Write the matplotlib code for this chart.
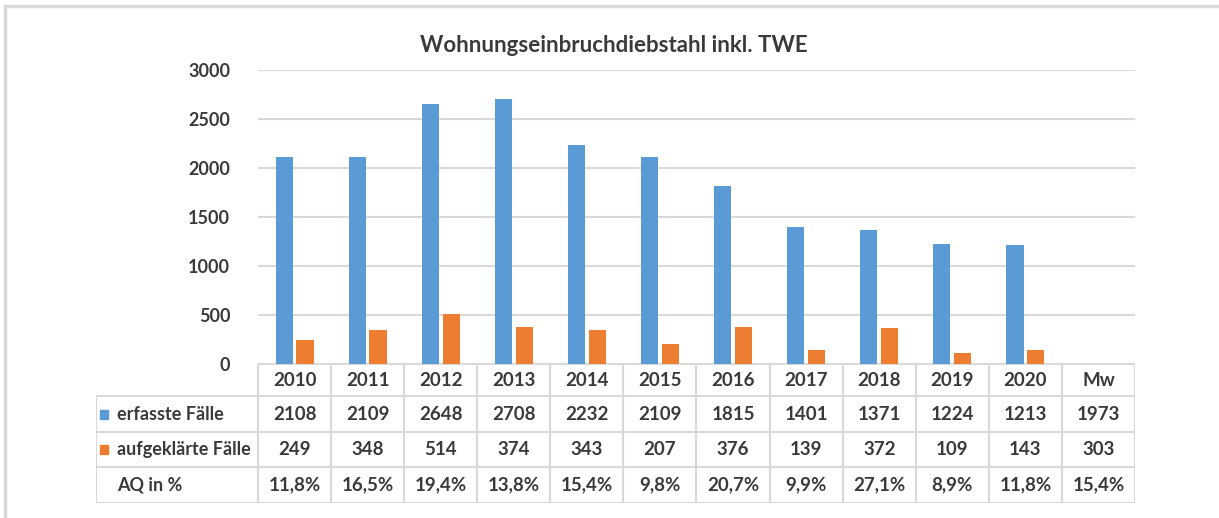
import matplotlib.pyplot as plt
from matplotlib.lines import Line2D
from matplotlib.patches import Rectangle

# Data
years = ['2010', '2011', '2012', '2013', '2014', '2015', '2016', '2017', '2018', '2019', '2020']
erfasst = [2108, 2109, 2648, 2708, 2232, 2109, 1815, 1401, 1371, 1224, 1213]
aufgeklaert = [249, 348, 514, 374, 343, 207, 376, 139, 372, 109, 143]
aq = ['11,8%', '16,5%', '19,4%', '13,8%', '15,4%', '9,8%', '20,7%', '9,9%', '27,1%', '8,9%', '11,8%']
mw_label = 'Mw'
mw_erfasst = 1973
mw_aufgeklaert = 303
mw_aq = '15,4%'

blue = '#5B9BD5'
orange = '#ED7D31'
grid_col = '#D9D9D9'
text_col = '#3A3A3A'

plt.rcParams['font.family'] = ['Lato', 'DejaVu Sans']

W, H = 1219, 518
fig = plt.figure(figsize=(W / 100, H / 100), dpi=100)


def fx(px):
    return px / W


def fy(py):
    return 1 - py / H


# Chart frame (light grey)
fig.add_artist(Line2D([fx(5), 1], [fy(6), fy(6)], color='#D9D9D9', lw=2.5))
fig.add_artist(Line2D([fx(5), fx(5)], [fy(6), 0], color='#D9D9D9', lw=2.5))

# Main bar axes
x_left, x_right = 258, 1135
y_top, y_bot = 70, 364
ax = fig.add_axes([fx(x_left), fy(y_bot), fx(x_right) - fx(x_left), fy(y_top) - fy(y_bot)])
ncat = len(years) + 1
pos = list(range(len(years)))
bw = 0.235
gap = 0.05
ax.bar([p - (bw + gap) / 2 for p in pos], erfasst, width=bw, color=blue, zorder=3)
ax.bar([p + (bw + gap) / 2 for p in pos], aufgeklaert, width=bw, color=orange, zorder=3)
ax.set_xlim(-0.5, ncat - 0.5)
ax.set_ylim(0, 3000)
ax.set_yticks(range(0, 3001, 500))
ax.yaxis.grid(True, color=grid_col, lw=1.5, zorder=0)
ax.set_xticks([])
for s in ax.spines.values():
    s.set_visible(False)
ax.tick_params(axis='y', length=0, pad=20, labelsize=13, labelcolor=text_col)
for lab in ax.get_yticklabels():
    lab.set_fontweight('bold')

fig.text(fx(614), fy(45), 'Wohnungseinbruchdiebstahl inkl. TWE', ha='center', va='center',
         fontsize=16, fontweight='bold', color=text_col)

# Data table
t_left = 96
t_top, t_bot = 364, 503
colw = (x_right - x_left) / ncat
lab_w = (x_left - t_left) / colw
tax = fig.add_axes([fx(t_left), fy(t_bot), fx(x_right) - fx(t_left), fy(t_top) - fy(t_bot)])
tax.set_xlim(-0.5 - lab_w, ncat - 0.5)
row_edges = [0, 32, 68, 103, 139]
tax.set_ylim(row_edges[-1], 0)
tax.axis('off')

lc = '#D9D9D9'
lw = 1.5
# horizontal lines
tax.plot([-0.5, ncat - 0.5], [0, 0], color=lc, lw=lw)
for r in row_edges[1:]:
    tax.plot([-0.5 - lab_w, ncat - 0.5], [r, r], color=lc, lw=lw)
# vertical lines
for c in range(ncat + 1):
    tax.plot([c - 0.5, c - 0.5], [0, row_edges[-1]], color=lc, lw=lw)
tax.plot([-0.5 - lab_w] * 2, [row_edges[1], row_edges[-1]], color=lc, lw=lw)

headers = years + [mw_label]
row_vals = [
    headers,
    [str(v) for v in erfasst] + [str(mw_erfasst)],
    [str(v) for v in aufgeklaert] + [str(mw_aufgeklaert)],
    aq + [mw_aq],
]
row_labels = [None, 'erfasste Fälle', 'aufgeklärte Fälle', 'AQ in %']
row_colors = [None, blue, orange, None]

for i, vals in enumerate(row_vals):
    yc = (row_edges[i] + row_edges[i + 1]) / 2
    for c, v in enumerate(vals):
        tax.text(c, yc, v, ha='center', va='center', fontsize=13.5, fontweight='bold', color=text_col)
    if row_labels[i]:
        lx = -0.5 - lab_w
        if row_colors[i]:
            sq = 8 / colw
            tax.add_patch(Rectangle((lx + 4 / colw, yc - 4.5), sq, 9, color=row_colors[i], clip_on=False))
        tax.text(lx + 21 / colw, yc, row_labels[i], ha='left', va='center', fontsize=13,
                 fontweight='bold', color=text_col)

fig.savefig('out.png', dpi=100, facecolor='white')
